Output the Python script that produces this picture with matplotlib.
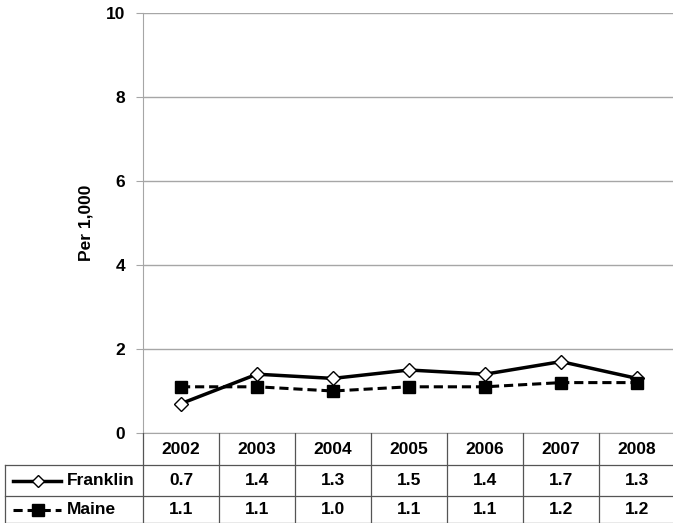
import matplotlib.pyplot as plt
from matplotlib.lines import Line2D

plt.rcParams["font.family"] = ["Liberation Sans", "DejaVu Sans"]

years = ["2002", "2003", "2004", "2005", "2006", "2007", "2008"]
franklin = [0.7, 1.4, 1.3, 1.5, 1.4, 1.7, 1.3]
maine = [1.1, 1.1, 1.0, 1.1, 1.1, 1.2, 1.2]
y_ticks = [0, 2, 4, 6, 8, 10]

W, H = 673, 523
fig = plt.figure(figsize=(W / 100, H / 100), dpi=100)

# plot area in pixel terms
left, right, top, bottom = 143, 675, 13, 433
ax = fig.add_axes([left / W, 1 - bottom / H, (right - left) / W, (bottom - top) / H])

grid_col = "#a6a6a6"
fs = 12.5
x = range(len(years))
ax.plot(x, franklin, color="black", lw=2.5, marker="D", ms=7.5,
        mfc="white", mec="black", mew=1, zorder=3)
ax.plot(x, maine, color="black", lw=2.2, ls=(0, (3, 1.6)), marker="s", ms=9,
        mfc="black", mec="black", zorder=3)

ax.set_xlim(-0.5, len(years) - 0.5)
ax.set_ylim(0, 10)
ax.set_yticks(y_ticks)
ax.set_xticks([])
ax.tick_params(axis="y", length=5, color=grid_col, labelsize=fs, pad=8)
for lbl in ax.get_yticklabels():
    lbl.set_fontweight("bold")
ax.yaxis.grid(True, color=grid_col, lw=1)
ax.set_axisbelow(True)
for s in ["top", "right"]:
    ax.spines[s].set_visible(False)
ax.spines["left"].set_color(grid_col)
ax.spines["bottom"].set_color(grid_col)
ax.set_ylabel("Per 1,000", fontsize=fs, fontweight="bold", labelpad=9)

# data table below the plot, drawn in pixel coordinates
tx = fig.add_axes([0, 0, 1, 1 - bottom / H])
tx.set_xlim(0, W)
tx.set_ylim(H, bottom)
tx.axis("off")

col_w = (right - left) / len(years)
row_edges = [bottom, 465, 496, 523]
lc = "#555555"
lw = 0.9
for ry in row_edges[1:3]:
    tx.plot([5, right], [ry, ry], color=lc, lw=lw)
tx.plot([5, right], [row_edges[3] - 0.5] * 2, color=lc, lw=lw)
for i in range(len(years) + 1):
    xv = left + i * col_w
    tx.plot([xv, xv], [row_edges[0], row_edges[3]], color=lc, lw=lw)
tx.plot([5, 5], [row_edges[1], row_edges[3]], color=lc, lw=lw)

for i, yr in enumerate(years):
    cx = left + (i + 0.5) * col_w
    tx.text(cx, (row_edges[0] + row_edges[1]) / 2, yr, ha="center", va="center",
            fontsize=fs, fontweight="bold")
    tx.text(cx, (row_edges[1] + row_edges[2]) / 2, f"{franklin[i]:.1f}",
            ha="center", va="center", fontsize=fs, fontweight="bold")
    tx.text(cx, (row_edges[2] + row_edges[3]) / 2, f"{maine[i]:.1f}",
            ha="center", va="center", fontsize=fs, fontweight="bold")

# legend keys
yf = (row_edges[1] + row_edges[2]) / 2
ym = (row_edges[2] + row_edges[3]) / 2
tx.add_line(Line2D([13, 61], [yf, yf], color="black", lw=2.5))
tx.add_line(Line2D([38], [yf], marker="D", ms=6, mfc="white", mec="black", mew=1))
tx.add_line(Line2D([13, 61], [ym, ym], color="black", lw=2.2, ls=(0, (3, 1.6))))
tx.add_line(Line2D([38], [ym], marker="s", ms=8, mfc="black", mec="black"))
tx.text(67, yf, "Franklin", ha="left", va="center", fontsize=fs, fontweight="bold")
tx.text(67, ym, "Maine", ha="left", va="center", fontsize=fs, fontweight="bold")

fig.savefig("out.png", dpi=100)
